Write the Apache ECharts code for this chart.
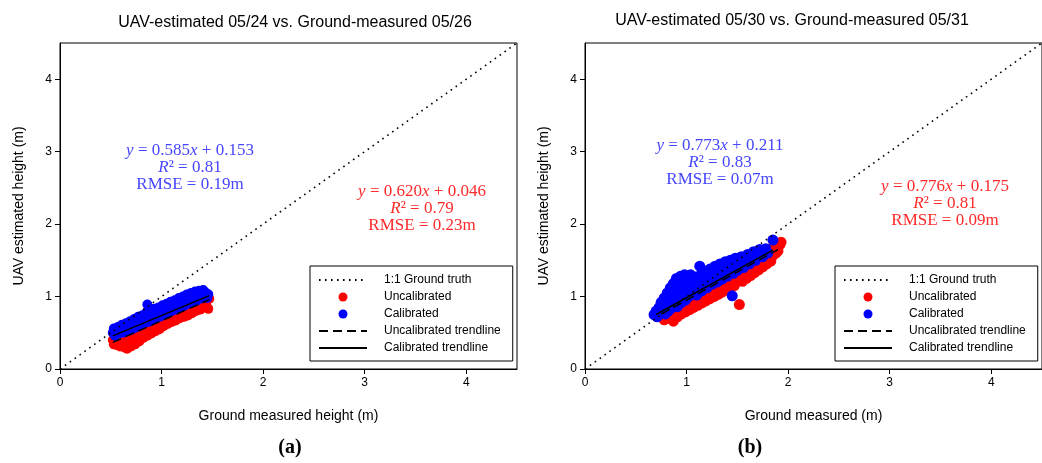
<!DOCTYPE html>
<html>
<head>
<meta charset="utf-8">
<script src="https://cdn.jsdelivr.net/npm/echarts@6/dist/echarts.min.js"></script>
<style>
html,body{margin:0;padding:0;background:#fff;}
#chart{width:1042px;height:463px;}
</style>
</head>
<body>
<div id="chart"></div>
<script>
// ---- data ----
const titles = ['UAV-estimated 05/24 vs. Ground-measured 05/26', 'UAV-estimated 05/30 vs. Ground-measured 05/31'];
const xNames = ['Ground measured height (m)', 'Ground measured (m)'];
const yName = 'UAV estimated height (m)';
const captions = ['(a)', '(b)'];
const seriesNames = ['1:1 Ground truth', 'Uncalibrated', 'Calibrated', 'Uncalibrated trendline', 'Calibrated trendline'];
const axisTicks = [0, 1, 2, 3, 4];

const oneToOne = [[0, 0], [4.5, 4.5]];

const uncalA = [
[0.52,0.40],[0.53,0.34],[0.55,0.43],[0.56,0.33],[0.58,0.38],[0.59,0.31],[0.60,0.45],[0.61,0.35],
[0.63,0.30],[0.64,0.40],[0.66,0.28],[0.67,0.43],[0.68,0.36],[0.70,0.31],[0.71,0.46],[0.72,0.39],
[0.74,0.34],[0.75,0.49],[0.76,0.42],[0.78,0.38],[0.79,0.52],[0.80,0.45],[0.82,0.43],[0.83,0.56],
[0.84,0.49],[0.86,0.46],[0.87,0.58],[0.88,0.52],[0.90,0.49],[0.91,0.61],[0.92,0.55],[0.94,0.52],
[0.95,0.64],[0.96,0.58],[0.98,0.55],[0.99,0.66],[1.00,0.60],[1.02,0.59],[1.03,0.70],[1.04,0.63],
[1.06,0.62],[1.07,0.73],[1.08,0.66],[1.10,0.65],[1.11,0.76],[1.12,0.69],[1.14,0.67],[1.15,0.79],
[1.16,0.72],[1.18,0.70],[1.19,0.81],[1.20,0.74],[1.22,0.72],[1.23,0.84],[1.24,0.76],[1.26,0.74],
[1.27,0.86],[1.28,0.79],[1.30,0.77],[1.31,0.88],[1.32,0.81],[1.34,0.80],[1.35,0.91],[1.36,0.84],
[1.38,0.82],[1.39,0.93],[1.40,0.87],[1.42,0.85],[1.43,0.96],[1.44,0.89],[1.46,0.83],[1.47,0.97]
];
const calA = [
[0.52,0.50],[0.53,0.56],[0.54,0.46],[0.56,0.53],[0.57,0.58],[0.58,0.49],[0.60,0.55],[0.61,0.61],
[0.62,0.50],[0.64,0.57],[0.65,0.63],[0.66,0.52],[0.68,0.60],[0.69,0.66],[0.70,0.54],[0.72,0.62],
[0.73,0.69],[0.74,0.57],[0.76,0.65],[0.77,0.72],[0.78,0.59],[0.80,0.67],[0.81,0.74],[0.82,0.62],
[0.84,0.70],[0.85,0.78],[0.86,0.89],[0.87,0.65],[0.88,0.72],[0.89,0.80],[0.90,0.67],[0.92,0.75],
[0.93,0.83],[0.94,0.70],[0.96,0.77],[0.97,0.85],[0.98,0.72],[1.00,0.80],[1.01,0.88],[1.02,0.75],
[1.04,0.82],[1.05,0.90],[1.06,0.77],[1.08,0.85],[1.09,0.93],[1.10,0.80],[1.12,0.87],[1.13,0.95],
[1.14,0.82],[1.16,0.90],[1.17,0.98],[1.18,0.85],[1.20,0.92],[1.21,1.00],[1.22,0.87],[1.24,0.95],
[1.25,1.03],[1.26,0.90],[1.28,0.97],[1.29,1.05],[1.30,0.92],[1.32,1.00],[1.33,1.07],[1.34,0.94],
[1.36,1.02],[1.37,1.08],[1.38,0.97],[1.40,1.04],[1.41,1.09],[1.42,0.99],[1.44,1.05],[1.45,0.98],[1.46,1.03]
];
const uncalTrendA = [[0.52, 0.368], [1.47, 0.957]];
const calTrendA = [[0.52, 0.457], [1.47, 1.013]];

const uncalB = [
[0.75,0.72],[0.77,0.80],[0.78,0.68],[0.80,0.74],[0.82,0.85],[0.83,0.70],[0.85,0.77],[0.86,0.88],
[0.87,0.66],[0.89,0.80],[0.90,0.92],[0.91,0.72],[0.93,0.84],[0.94,0.95],[0.95,0.76],[0.97,0.87],
[0.98,0.98],[0.99,0.79],[1.01,0.90],[1.02,1.01],[1.03,0.82],[1.05,0.93],[1.06,1.04],[1.07,0.85],
[1.09,0.96],[1.10,1.08],[1.11,0.88],[1.13,1.00],[1.14,1.11],[1.15,0.91],[1.17,1.03],[1.18,1.14],
[1.19,0.94],[1.21,1.06],[1.22,1.17],[1.23,0.97],[1.25,1.09],[1.26,1.20],[1.27,1.00],[1.29,1.12],
[1.30,1.23],[1.31,1.03],[1.33,1.15],[1.34,1.27],[1.35,1.06],[1.37,1.18],[1.38,1.30],[1.39,1.09],
[1.41,1.21],[1.42,1.33],[1.43,1.12],[1.45,1.24],[1.46,1.36],[1.47,1.15],[1.49,1.27],[1.50,1.39],
[1.52,0.89],[1.53,1.30],[1.54,1.42],[1.55,1.21],[1.57,1.33],[1.58,1.45],[1.59,1.25],[1.61,1.36],
[1.62,1.49],[1.63,1.29],[1.65,1.40],[1.66,1.52],[1.67,1.33],[1.69,1.43],[1.70,1.55],[1.71,1.37],
[1.73,1.46],[1.74,1.58],[1.75,1.41],[1.77,1.50],[1.78,1.62],[1.79,1.45],[1.81,1.53],[1.82,1.65],
[1.83,1.49],[1.85,1.57],[1.86,1.68],[1.88,1.60],[1.90,1.63],[1.92,1.72],[1.93,1.75]
];
const calB = [
[0.68,0.75],[0.70,0.80],[0.71,0.72],[0.73,0.85],[0.74,0.78],[0.75,0.92],[0.77,0.82],[0.78,0.98],
[0.79,0.76],[0.80,0.88],[0.81,1.05],[0.82,0.80],[0.83,0.95],[0.84,1.12],[0.85,0.84],[0.86,1.00],
[0.87,1.18],[0.88,0.90],[0.89,1.07],[0.90,1.25],[0.91,0.86],[0.92,0.97],[0.93,1.13],[0.94,1.28],
[0.95,0.92],[0.96,1.04],[0.97,1.20],[0.98,1.30],[0.99,0.95],[1.00,1.10],[1.01,1.24],[1.02,1.00],
[1.03,1.16],[1.04,1.30],[1.05,1.04],[1.06,1.20],[1.08,1.10],[1.09,1.27],[1.10,1.02],[1.12,1.15],
[1.13,1.42],[1.14,1.30],[1.15,1.08],[1.17,1.22],[1.18,1.35],[1.20,1.12],[1.22,1.27],[1.23,1.38],
[1.25,1.17],[1.27,1.31],[1.28,1.42],[1.30,1.20],[1.32,1.35],[1.33,1.45],[1.35,1.24],[1.37,1.38],
[1.38,1.48],[1.40,1.28],[1.42,1.41],[1.43,1.50],[1.45,1.01],[1.46,1.32],[1.47,1.45],[1.48,1.53],
[1.50,1.36],[1.52,1.48],[1.54,1.55],[1.56,1.40],[1.58,1.52],[1.60,1.58],[1.62,1.45],[1.64,1.56],
[1.66,1.62],[1.68,1.50],[1.70,1.60],[1.72,1.65],[1.75,1.55],[1.78,1.66],[1.80,1.60],[1.85,1.78]
];
const uncalTrendB = [[0.75, 0.757], [1.90, 1.649]];
const calTrendB = [[0.70, 0.752], [1.85, 1.641]];

const eqCal = [['0.585', '0.153', '0.81', '0.19m'], ['0.773', '0.211', '0.83', '0.07m']];
const eqUncal = [['0.620', '0.046', '0.79', '0.23m'], ['0.776', '0.175', '0.81', '0.09m']];

// ---- chart ----
const chart = echarts.init(document.getElementById('chart'), null, {renderer: 'canvas'});
const sans = 'Liberation Sans, Arial, sans-serif';
const serif = 'Liberation Serif, Times New Roman, serif';
const RED = '#ff0000', BLUE = '#0000ff', EQBLUE = '#4646ff', EQRED = '#ff2a2a';
const NOFILL = 'rgba(0,0,0,0)';

const grids = [
  {left: 60, top: 43, width: 457, height: 326, show: true, borderColor: '#000', borderWidth: 1, backgroundColor: 'transparent'},
  {left: 585, top: 43, width: 467, height: 326, show: true, borderColor: '#000', borderWidth: 1, backgroundColor: 'transparent'}
];
function mkAxis(i, isX) {
  return {
    gridIndex: i, type: 'value', min: 0, max: 4.5, interval: 1,
    name: isX ? xNames[i] : yName, nameLocation: 'middle', nameGap: isX ? 40 : 34,
    nameTextStyle: {fontFamily: sans, fontSize: 14, color: '#000'},
    axisLine: {show: true, lineStyle: {color: '#000', width: 1}},
    axisTick: {show: true, inside: false, length: 5, lineStyle: {color: '#000'},
      customValues: axisTicks},
    axisLabel: {color: '#000', fontFamily: sans, fontSize: 12, margin: 8, customValues: axisTicks},
    splitLine: {show: false}
  };
}
const data = [
  {u: uncalA, c: calA, ut: uncalTrendA, ct: calTrendA, size: 10},
  {u: uncalB, c: calB, ut: uncalTrendB, ct: calTrendB, size: 11}
];
const series = [];
data.forEach((d, i) => {
  series.push({name: seriesNames[1], type: 'scatter', xAxisIndex: i, yAxisIndex: i, data: d.u,
    symbolSize: d.size, itemStyle: {color: RED, opacity: 1}, z: 2});
  series.push({name: seriesNames[2], type: 'scatter', xAxisIndex: i, yAxisIndex: i, data: d.c,
    symbolSize: d.size, itemStyle: {color: BLUE, opacity: 1}, z: 3});
  series.push({name: seriesNames[0], type: 'line', xAxisIndex: i, yAxisIndex: i, data: oneToOne,
    symbol: 'none', itemStyle: {color: NOFILL}, lineStyle: {color: '#000', width: 1.6, type: [1.6, 4.4]}, z: 4});
  series.push({name: seriesNames[3], type: 'line', xAxisIndex: i, yAxisIndex: i, data: d.ut,
    symbol: 'none', itemStyle: {color: NOFILL}, lineStyle: {color: '#000', width: 1.5, type: [9, 5]}, z: 5});
  series.push({name: seriesNames[4], type: 'line', xAxisIndex: i, yAxisIndex: i, data: d.ct,
    symbol: 'none', itemStyle: {color: NOFILL}, lineStyle: {color: '#000', width: 1.5, type: 'solid'}, z: 5});
});

function legendFor(left) {
  return {
    left: left, top: 266, orient: 'vertical', itemWidth: 48, itemHeight: 9, itemGap: 5,
    padding: [8, 12, 7, 8], borderColor: '#000', borderWidth: 1, backgroundColor: '#fff',
    selectedMode: false,
    textStyle: {fontFamily: sans, fontSize: 12, color: '#000', padding: [0, 0, 0, 12]},
    data: seriesNames.map(n => (n === 'Uncalibrated' || n === 'Calibrated') ?
      {name: n, icon: 'circle'} : {name: n, itemStyle: {opacity: 0}})
  };
}

const graphic = [
  {type: 'text', x: 290, y: 448, z: 10,
    style: {text: captions[0], font: 'bold 20px ' + serif, fill: '#000', align: 'center', verticalAlign: 'middle'}},
  {type: 'text', x: 750, y: 448, z: 10,
    style: {text: captions[1], font: 'bold 20px ' + serif, fill: '#000', align: 'center', verticalAlign: 'middle'}}
];
const eqs = [
  [190, 142, eqCal[0], EQBLUE], [422, 183, eqUncal[0], EQRED],
  [720, 137, eqCal[1], EQBLUE], [945, 178, eqUncal[1], EQRED]
];
eqs.forEach(e => {
  const rich = {
    i: {fontStyle: 'italic', fontFamily: serif, fontSize: 17, fill: e[3], lineHeight: 17},
    n: {fontFamily: serif, fontSize: 17, fill: e[3], lineHeight: 17}
  };
  graphic.push({
    type: 'text', x: e[0], y: e[1], z: 10,
    style: {
      text: '{i|y}{n| = ' + e[2][0] + '}{i|x}{n| + ' + e[2][1] + '}\n{i|R}{n|² = ' + e[2][2] + '}\n{n|RMSE = ' + e[2][3] + '}',
      rich: rich, align: 'center', verticalAlign: 'top', fill: e[3], font: '17px ' + serif
    }
  });
});

chart.setOption({
  animation: false,
  backgroundColor: '#fff',
  title: [
    {text: titles[0], left: 290, top: 10, textAlign: 'center',
      textStyle: {fontFamily: sans, fontSize: 16, fontWeight: 'normal', color: '#000'}},
    {text: titles[1], left: 787, top: 8, textAlign: 'center',
      textStyle: {fontFamily: sans, fontSize: 16, fontWeight: 'normal', color: '#000'}}
  ],
  grid: grids,
  xAxis: [mkAxis(0, true), mkAxis(1, true)],
  yAxis: [mkAxis(0, false), mkAxis(1, false)],
  legend: [legendFor(310), legendFor(835)],
  series: series,
  graphic: graphic
});
</script>
</body>
</html>
